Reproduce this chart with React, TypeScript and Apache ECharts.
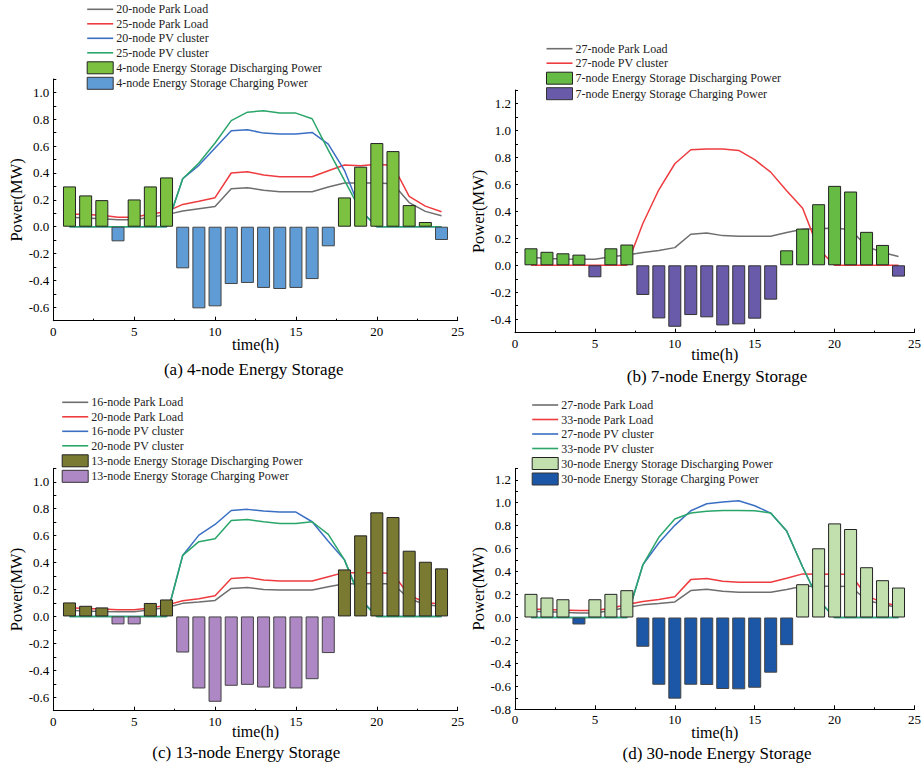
import React, { useEffect, useRef } from "react";
import * as echarts from "echarts";

// ---------- data ----------
const HOURS = [1, 2, 3, 4, 5, 6, 7, 8, 9, 10, 11, 12, 13, 14, 15, 16, 17, 18, 19, 20, 21, 22, 23, 24];

// (a) 4-node
const A_LOAD20 = [0.07, 0.065, 0.06, 0.052, 0.052, 0.07, 0.09, 0.117, 0.134, 0.151, 0.283, 0.29, 0.272, 0.26, 0.26, 0.26, 0.295, 0.325, 0.325, 0.325, 0.32, 0.18, 0.114, 0.082];
const A_LOAD25 = [0.095, 0.09, 0.085, 0.07, 0.07, 0.095, 0.112, 0.166, 0.189, 0.216, 0.4, 0.41, 0.385, 0.372, 0.372, 0.372, 0.417, 0.46, 0.454, 0.466, 0.456, 0.226, 0.153, 0.112];
const A_PV20 = [0, 0, 0, 0, 0, 0, 0, 0.357, 0.457, 0.586, 0.715, 0.722, 0.697, 0.69, 0.69, 0.702, 0.615, 0.42, 0.12, 0, 0, 0, 0, 0];
const A_PV25 = [0, 0, 0, 0, 0, 0, 0, 0.357, 0.474, 0.623, 0.79, 0.853, 0.864, 0.846, 0.846, 0.804, 0.57, 0.345, 0.12, 0, 0, 0, 0, 0];
const A_ES = [0.3, 0.233, 0.198, -0.109, 0.203, 0.3, 0.367, -0.31, -0.608, -0.593, -0.427, -0.419, -0.456, -0.464, -0.456, -0.39, -0.146, 0.218, 0.447, 0.623, 0.563, 0.161, 0.035, -0.099];

// (b) 7-node
const B_LOAD27 = [0.06, 0.05, 0.047, 0.045, 0.045, 0.064, 0.077, 0.094, 0.109, 0.131, 0.23, 0.24, 0.22, 0.215, 0.215, 0.215, 0.243, 0.268, 0.272, 0.275, 0.265, 0.14, 0.095, 0.065];
const B_PV27 = [0, 0, 0, 0, 0, 0, 0, 0.31, 0.56, 0.753, 0.857, 0.862, 0.862, 0.852, 0.783, 0.691, 0.552, 0.423, 0.12, 0, 0, 0, 0, 0];
const B_ES = [0.126, 0.1, 0.089, 0.079, -0.089, 0.126, 0.154, -0.22, -0.394, -0.456, -0.369, -0.386, -0.446, -0.438, -0.396, -0.255, 0.111, 0.272, 0.453, 0.589, 0.547, 0.248, 0.151, -0.084];

// (c) 13-node
const C_LOAD16 = [0.045, 0.04, 0.037, 0.035, 0.035, 0.05, 0.067, 0.097, 0.107, 0.119, 0.208, 0.215, 0.2, 0.196, 0.196, 0.196, 0.22, 0.243, 0.243, 0.243, 0.243, 0.13, 0.09, 0.072];
const C_LOAD20 = [0.065, 0.058, 0.055, 0.05, 0.05, 0.062, 0.084, 0.116, 0.131, 0.154, 0.282, 0.29, 0.27, 0.263, 0.263, 0.263, 0.295, 0.327, 0.322, 0.327, 0.317, 0.155, 0.105, 0.09];
const C_PV16 = [0, 0, 0, 0, 0, 0, 0, 0.453, 0.604, 0.683, 0.787, 0.795, 0.783, 0.775, 0.775, 0.703, 0.558, 0.42, 0.13, 0, 0, 0, 0, 0];
const C_PV20 = [0, 0, 0, 0, 0, 0, 0, 0.453, 0.555, 0.577, 0.713, 0.72, 0.703, 0.69, 0.69, 0.703, 0.609, 0.42, 0.12, 0, 0, 0, 0, 0];
const C_ES = [0.104, 0.079, 0.067, -0.059, -0.059, 0.1, 0.126, -0.268, -0.535, -0.634, -0.515, -0.508, -0.528, -0.535, -0.535, -0.466, -0.272, 0.349, 0.602, 0.773, 0.738, 0.488, 0.406, 0.357];

// (d) 30-node
const D_LOAD27 = [0.055, 0.05, 0.045, 0.04, 0.04, 0.06, 0.087, 0.11, 0.122, 0.136, 0.235, 0.246, 0.229, 0.22, 0.22, 0.22, 0.243, 0.272, 0.272, 0.272, 0.27, 0.15, 0.115, 0.085];
const D_LOAD33 = [0.075, 0.07, 0.065, 0.061, 0.061, 0.08, 0.113, 0.139, 0.157, 0.18, 0.33, 0.339, 0.316, 0.307, 0.307, 0.307, 0.342, 0.38, 0.377, 0.38, 0.374, 0.19, 0.13, 0.1];
const D_PV27 = [0, 0, 0, 0, 0, 0, 0, 0.458, 0.649, 0.803, 0.93, 0.991, 1.006, 1.017, 0.974, 0.91, 0.754, 0.44, 0.15, 0, 0, 0, 0, 0];
const D_PV33 = [0, 0, 0, 0, 0, 0, 0, 0.458, 0.699, 0.858, 0.91, 0.925, 0.933, 0.933, 0.93, 0.91, 0.754, 0.44, 0.15, 0, 0, 0, 0, 0];
const D_ES = [0.206, 0.174, 0.159, -0.061, 0.159, 0.206, 0.238, -0.255, -0.586, -0.707, -0.586, -0.588, -0.623, -0.626, -0.612, -0.481, -0.241, 0.29, 0.603, 0.82, 0.771, 0.438, 0.325, 0.261];

const X_TICKS = [0, 5, 10, 15, 20, 25];

// ---------- styles ----------
const GRAY = "#6e6e6e";
const RED = "#ee3b3f";
const BLUE = "#3a6fc3";
const GREEN = "#2aa66a";
const FONT = "Liberation Serif";

type LineDef = { name: string; data: number[]; color: string };
type Panel = {
  grid: { left: number; top: number; width: number; height: number };
  legend: { left: number; top: number };
  ymin: number;
  ymax: number;
  lines: LineDef[];
  es: number[];
  dis: { name: string; color: string };
  chg: { name: string; color: string; border: string };
  title: string;
  titlePos: [number, number];
  xNameGap: number;
};

const PANELS: Panel[] = [
  {
    grid: { left: 53.3, top: 79, width: 404.4, height: 241.7 },
    legend: { left: 86.7, top: 3.3 },
    ymin: -0.7,
    ymax: 1.1,
    lines: [
      { name: "20-node Park Load", data: A_LOAD20, color: GRAY },
      { name: "25-node Park Load", data: A_LOAD25, color: RED },
      { name: "20-node PV cluster", data: A_PV20, color: BLUE },
      { name: "25-node PV cluster", data: A_PV25, color: GREEN },
    ],
    es: A_ES,
    dis: { name: "4-node Energy Storage Discharging Power", color: "#7cc13f" },
    chg: { name: "4-node Energy Storage Charging Power", color: "#5f9cd6", border: "#444" },
    title: "(a) 4-node Energy Storage",
    titlePos: [253.7, 369],
    xNameGap: 15.5,
  },
  {
    grid: { left: 515, top: 90, width: 405, height: 242.7 },
    legend: { left: 546, top: 42.7 },
    ymin: -0.5,
    ymax: 1.3,
    lines: [
      { name: "27-node Park Load", data: B_LOAD27, color: GRAY },
      { name: "27-node PV cluster", data: B_PV27, color: RED },
    ],
    es: B_ES,
    dis: { name: "7-node Energy Storage Discharging Power", color: "#66bb44" },
    chg: { name: "7-node Energy Storage Charging Power", color: "#6a5aaa", border: "#333" },
    title: "(b) 7-node Energy Storage",
    titlePos: [717, 376],
    xNameGap: 14,
  },
  {
    grid: { left: 53.3, top: 468.3, width: 404.4, height: 242.4 },
    legend: { left: 61.7, top: 396.3 },
    ymin: -0.7,
    ymax: 1.1,
    lines: [
      { name: "16-node Park Load", data: C_LOAD16, color: GRAY },
      { name: "20-node Park Load", data: C_LOAD20, color: RED },
      { name: "16-node PV cluster", data: C_PV16, color: BLUE },
      { name: "20-node PV cluster", data: C_PV20, color: GREEN },
    ],
    es: C_ES,
    dis: { name: "13-node Energy Storage Discharging Power", color: "#7a7a33" },
    chg: { name: "13-node Energy Storage Charging Power", color: "#ad88c4", border: "#444" },
    title: "(c) 13-node Energy Storage",
    titlePos: [246.3, 752],
    xNameGap: 13,
  },
  {
    grid: { left: 515, top: 468.3, width: 405, height: 241 },
    legend: { left: 531.7, top: 399 },
    ymin: -0.8,
    ymax: 1.3,
    lines: [
      { name: "27-node Park Load", data: D_LOAD27, color: GRAY },
      { name: "33-node Park Load", data: D_LOAD33, color: RED },
      { name: "27-node PV cluster", data: D_PV27, color: BLUE },
      { name: "33-node PV cluster", data: D_PV33, color: GREEN },
    ],
    es: D_ES,
    dis: { name: "30-node Energy Storage Discharging Power", color: "#c1e0ad" },
    chg: { name: "30-node Energy Storage Charging Power", color: "#1b56a7", border: "#444" },
    title: "(d) 30-node Energy Storage",
    titlePos: [717, 753.5],
    xNameGap: 15,
  },
];

function buildOption() {
  const grid: any[] = [];
  const xAxis: any[] = [];
  const yAxis: any[] = [];
  const legend: any[] = [];
  const series: any[] = [];
  const graphic: any[] = [];

  PANELS.forEach((p, i) => {
    grid.push({ ...p.grid, containLabel: false });
    xAxis.push({
      type: "value",
      gridIndex: i,
      min: X_TICKS[0],
      max: X_TICKS[X_TICKS.length - 1],
      interval: 5,
      name: "time(h)",
      nameLocation: "middle",
      nameGap: p.xNameGap,
      nameMoveOverlap: false,
      nameTextStyle: { fontSize: 16, fontFamily: FONT, color: "#000", lineHeight: 16 },
      axisLine: { show: true, onZero: false, lineStyle: { color: "#000", width: 1 } },
      axisTick: { show: true, inside: true, length: 4, lineStyle: { color: "#000" } },
      minorTick: { show: true, splitNumber: 2, length: 2, lineStyle: { color: "#000" } },
      axisLabel: { fontSize: 13, fontFamily: FONT, color: "#000", margin: 4 },
      splitLine: { show: false },
    });
    yAxis.push({
      type: "value",
      gridIndex: i,
      min: p.ymin,
      max: p.ymax,
      interval: 0.1,
      name: "Power(MW)",
      nameLocation: "middle",
      nameGap: 28,
      nameMoveOverlap: false,
      nameTextStyle: { fontSize: 16.5, fontFamily: FONT, color: "#000" },
      axisLine: { show: true, onZero: false, lineStyle: { color: "#000", width: 1 } },
      axisTick: { show: true, inside: true, length: 3, lineStyle: { color: "#000" } },
      axisLabel: {
        fontSize: 13,
        fontFamily: FONT,
        color: "#000",
        margin: 4,
        formatter: (v: number) => {
          const t = Math.round(v * 10);
          if (t % 2 !== 0) return "";
          return (t / 10).toFixed(1);
        },
      },
      splitLine: { show: false },
    });

    const legendData: any[] = [];
    p.lines.forEach((l) => {
      series.push({
        type: "line",
        name: l.name,
        xAxisIndex: i,
        yAxisIndex: i,
        data: HOURS.map((h, k) => [h, l.data[k]]),
        symbol: "none",
        lineStyle: { color: l.color, width: 1.5 },
        itemStyle: { color: l.color },
        z: 2,
      });
      legendData.push({
        name: l.name,
        icon: "path://M0 0H26V1.6H0Z",
        itemStyle: { color: l.color, borderWidth: 0 },
        lineStyle: { color: l.color, width: 0 },
      });
    });
    series.push({
      type: "bar",
      name: p.dis.name,
      xAxisIndex: i,
      yAxisIndex: i,
      data: HOURS.map((h, k) => [h, p.es[k]]).filter((d) => d[1] > 0),
      barWidth: 13,
      barGap: "-100%",
      itemStyle: { color: p.dis.color, borderColor: "#222", borderWidth: 1 },
      z: 3,
    });
    series.push({
      type: "bar",
      name: p.chg.name,
      xAxisIndex: i,
      yAxisIndex: i,
      data: HOURS.map((h, k) => [h, p.es[k]]).filter((d) => d[1] < 0),
      barWidth: 13,
      barGap: "-100%",
      itemStyle: { color: p.chg.color, borderColor: p.chg.border, borderWidth: 1 },
      z: 3,
    });
    legendData.push({
      name: p.dis.name,
      icon: "rect",
      itemStyle: { color: p.dis.color, borderColor: "#222", borderWidth: 1 },
    });
    legendData.push({
      name: p.chg.name,
      icon: "rect",
      itemStyle: { color: p.chg.color, borderColor: "#333", borderWidth: 1 },
    });

    legend.push({
      orient: "vertical",
      left: p.legend.left,
      top: p.legend.top,
      padding: 0,
      itemWidth: 26,
      itemHeight: 12,
      itemGap: 2.5,
      selectedMode: false,
      textStyle: { fontSize: 12, fontFamily: FONT, color: "#222", lineHeight: 12, padding: [0, 0, 0, -2] },
      data: legendData,
    });

    graphic.push({
      type: "text",
      x: p.titlePos[0],
      y: p.titlePos[1],
      style: {
        text: p.title,
        fontSize: 17,
        fontFamily: FONT,
        fill: "#000",
        lineHeight: 17,
        align: "center",
        verticalAlign: "middle",
        textAlign: "center",
        textVerticalAlign: "middle",
      },
    });
  });

  return {
    animation: false,
    backgroundColor: "#fff",
    grid,
    xAxis,
    yAxis,
    legend,
    series,
    graphic,
  };
}

export default function App() {
  const ref = useRef<HTMLDivElement>(null);
  useEffect(() => {
    if (!ref.current) return;
    const chart = echarts.init(ref.current, undefined, { renderer: "svg" });
    chart.setOption(buildOption() as any);
    return () => chart.dispose();
  }, []);
  return (
    <div
      ref={ref}
      style={{ position: "absolute", left: 0, top: 0, width: 924, height: 767, background: "#fff" }}
    />
  );
}
